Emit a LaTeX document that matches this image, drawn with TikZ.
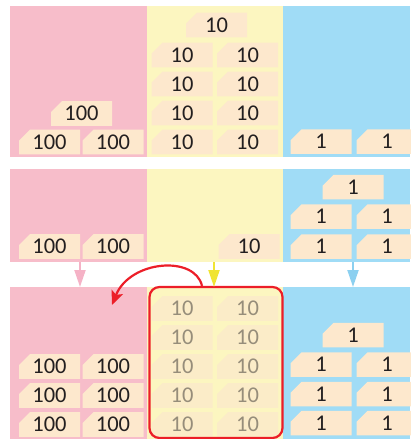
\documentclass[tikz,border=0pt]{standalone}
\usepackage{fontspec}
\setmainfont{Carlito}
\usetikzlibrary{positioning,shapes.misc,arrows.meta}
\definecolor{pinkbg}{RGB}{247,189,202}
\definecolor{yellowbg}{RGB}{252,246,192}
\definecolor{bluebg}{RGB}{160,220,246}
\definecolor{tilecol}{RGB}{253,232,205}
\definecolor{fadecol}{RGB}{251,236,200}
\definecolor{fadetext}{RGB}{150,141,122}
\definecolor{numdark}{RGB}{35,31,32}
\definecolor{redline}{RGB}{236,30,40}
\definecolor{pinkarr}{RGB}{245,178,198}
\definecolor{yellowarr}{RGB}{240,228,50}
\definecolor{bluearr}{RGB}{140,208,240}

\begin{document}
\begin{tikzpicture}[x=1pt, y=-1pt,
  every node/.style={font=\fontsize{22.5}{26}\selectfont, text=numdark},
  tile/.style={chamfered rectangle, chamfered rectangle corners=north west,
               chamfered rectangle xsep=6pt, chamfered rectangle ysep=5pt,
               fill=tilecol, minimum width=61pt, minimum height=24.5pt, inner sep=0pt},
  faded/.style={tile, fill=fadecol, text=fadetext},
  arr/.style={-{Triangle[length=17pt, width=11pt]}, line width=2pt},
]
\useasboundingbox (0,0) rectangle (410,439);
% column panels, three rows
\fill[pinkbg]   (10,6)   rectangle (147,157);
\fill[yellowbg] (147,6)  rectangle (283,157);
\fill[bluebg]   (283,6)  rectangle (410,157);
\fill[pinkbg]   (10,169) rectangle (147,262);
\fill[yellowbg] (147,169) rectangle (283,262);
\fill[bluebg]   (283,169) rectangle (410,262);
\fill[pinkbg]   (10,287) rectangle (147,439);
\fill[yellowbg] (147,287) rectangle (283,439);
\fill[bluebg]   (283,287) rectangle (410,439);

% first row
\node[tile] (h1a) at (49.5,142)  {100};
\node[tile] (h1b) at (113,142)   {100};
\node[tile] (h1c) at (81.5,113.5) {100};
\foreach \i/\y in {1/142,2/113,3/84,4/55} {
  \node[tile] (t1a\i) at (182,\y)   {10};
  \node[tile] (t1b\i) at (247.5,\y) {10};
}
\node[tile] (t1c) at (216.5,25) {10};
\node[tile] (o1a) at (321,141.5) {1};
\node[tile] (o1b) at (387,141.5) {1};

% second row
\node[tile] (h2a) at (49.5,246.5) {100};
\node[tile] (h2b) at (113,246.5)  {100};
\node[tile] (t2a) at (249,246.5)  {10};
\foreach \i/\y in {1/246.5,2/216.5} {
  \node[tile] (o2a\i) at (321,\y) {1};
  \node[tile] (o2b\i) at (387,\y) {1};
}
\node[tile] (o2c) at (353,187) {1};

% third row
\foreach \i/\y in {1/424.5,2/395.5,3/366.5} {
  \node[tile] (h3a\i) at (49.5,\y) {100};
  \node[tile] (h3b\i) at (113,\y)  {100};
}
\foreach \i/\y in {1/424.5,2/395.5,3/366.5,4/337.5,5/308.5} {
  \node[faded] (t3a\i) at (182,\y)   {10};
  \node[faded] (t3b\i) at (247.5,\y) {10};
}
\foreach \i/\y in {1/423,2/394,3/364.5} {
  \node[tile] (o3a\i) at (321,\y) {1};
  \node[tile] (o3b\i) at (387,\y) {1};
}
\node[tile] (o3c) at (353,335) {1};
\node[draw=redline, line width=2.2pt, rounded corners=10pt, inner sep=0pt,
      minimum width=133pt, minimum height=151pt] (grp) at (216,362.5) {};

% arrows
\coordinate (pkS) at (80,262);  \coordinate (pkE) at (80,287);
\coordinate (ylS) at (214,262); \coordinate (ylE) at (214,287);
\coordinate (blS) at (353,262); \coordinate (blE) at (353,287);
\coordinate (rtip) at (112,305);
\draw[arr, pinkarr]   (pkS) -- (pkE);
\draw[arr, yellowarr] (ylS) -- (ylE);
\draw[arr, bluearr]   (blS) -- (blE);
\draw[-{Stealth[length=14pt, width=12pt, inset=3pt]}, line width=2.2pt, redline]
  ([xshift=-14pt]grp.north) .. controls (195,255) and (130,260) .. (rtip);
\end{tikzpicture}
\end{document}
